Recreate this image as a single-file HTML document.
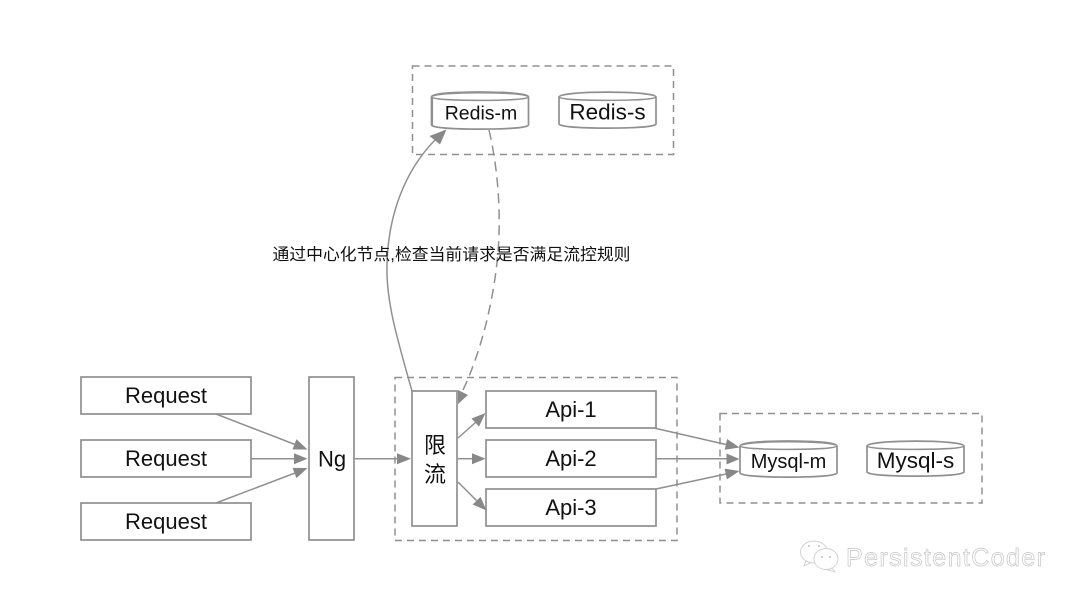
<!DOCTYPE html>
<html lang="zh">
<head>
<meta charset="utf-8">
<title>限流架构图</title>
<style>
html,body{margin:0;padding:0;background:#fff;width:1080px;height:602px;overflow:hidden}
svg{display:block;filter:blur(.35px)}
text{font-family:"Liberation Sans","Noto Sans CJK SC",sans-serif;fill:#111;text-anchor:middle}
.b{fill:#fff;stroke:#909090;stroke-width:1.7}
.d{fill:none;stroke:#909090;stroke-width:1.5;stroke-dasharray:7 5}
.l{fill:none;stroke:#909090;stroke-width:1.5}
.a{fill:#888}
</style>
</head>
<body>
<svg width="1080" height="602" viewBox="0 0 1080 602" xmlns="http://www.w3.org/2000/svg">
<rect width="1080" height="602" fill="#fff"/>

<!-- groups -->
<rect class="d" x="412.500" y="66" width="261" height="88.500"/>
<rect class="d" x="395" y="377.500" width="282" height="163"/>
<rect class="d" x="720" y="413.500" width="262" height="89.500"/>

<!-- boxes -->
<rect class="b" x="81" y="377" width="170" height="37"/>
<rect class="b" x="81" y="440" width="170" height="37"/>
<rect class="b" x="81" y="503" width="170" height="37"/>
<rect class="b" x="309" y="377" width="45" height="163"/>
<rect class="b" x="412" y="391" width="45" height="135"/>
<rect class="b" x="486" y="391" width="170" height="37"/>
<rect class="b" x="486" y="440" width="170" height="37"/>
<rect class="b" x="486" y="489" width="170" height="37"/>

<!-- cylinders -->
<path class="b" d="M431.500 97c0-6.500 97-6.500 97 0v28c0 5.500-97 5.500-97 0z"/>
<path class="l" d="M431.500 97c0 4.500 97 4.500 97 0"/>
<path class="l" d="M432 96.500c0-5.500 96-5.500 96 0M432 97v28" style="stroke-width:2.200"/>
<path class="b" d="M559 97c0-6.500 97-6.500 97 0v27c0 5.500-97 5.500-97 0z"/>
<path class="l" d="M559 97c0 4.500 97 4.500 97 0"/>
<path class="b" d="M740 446c0-6.500 97-6.500 97 0v27c0 5.500-97 5.500-97 0z"/>
<path class="l" d="M740 446c0 4.500 97 4.500 97 0"/>
<path class="l" d="M741 445.500c0-5.500 95-5.500 95 0" style="stroke-width:2.200"/>
<path class="b" d="M867 446c0-6.500 97-6.500 97 0v26c0 5.500-97 5.500-97 0z"/>
<path class="l" d="M867 446c0 4.500 97 4.500 97 0"/>

<!-- connectors -->
<path class="l" d="M216 414L295 444.500"/>
<polygon class="a" points="307.500,449.500 292.500,449.500 296.500,439.300"/>
<path class="l" d="M251 458.700H295"/>
<polygon class="a" points="307.500,458.700 294,453.200 294,464.200"/>
<path class="l" d="M216 503L295 473"/>
<polygon class="a" points="307.500,468 296.500,478.100 292.500,467.900"/>
<path class="l" d="M355 458.700H398"/>
<polygon class="a" points="411,458.700 397,453.200 397,464.200"/>

<path class="l" d="M458 438L475.500 422.500"/>
<polygon class="a" points="485.500,413 479,426.600 471.500,418.500"/>
<path class="l" d="M458 458.700H473"/>
<polygon class="a" points="485.500,458.700 472,453.200 472,464.200"/>
<path class="l" d="M458 482L476.500 500.500"/>
<polygon class="a" points="486.500,510.500 472.700,504.500 480.500,496.700"/>

<path class="l" d="M654 428L726 444.500"/>
<polygon class="a" points="739.500,447.500 724.700,449.800 727.100,439"/>
<path class="l" d="M656 458.700H728"/>
<polygon class="a" points="739.500,459 726.500,453.500 726.500,464.500"/>
<path class="l" d="M656 489L726 474"/>
<polygon class="a" points="739.500,471 726.900,479.400 724.600,468.600"/>

<!-- redis curves -->
<path class="l" d="M412 391C396 335 386 300 387 265C388 215 405 170 436 139"/>
<polygon class="a" points="446.500,129.500 440,144.500 429.500,136"/>
<path class="l" d="M489 130C497 165 500 200 499 235C497 290 482 350 463 390" style="stroke-dasharray:10 6"/>
<polygon class="a" points="458,404 458,390 468,395"/>

<!-- labels -->
<text x="166" y="403" font-size="22">Request</text>
<text x="166" y="466" font-size="22">Request</text>
<text x="166" y="529" font-size="22">Request</text>
<text x="332" y="466.500" font-size="22">Ng</text>
<text x="435" y="453" font-size="22">限</text>
<text x="435" y="482" font-size="22">流</text>
<text x="571" y="417" font-size="22">Api-1</text>
<text x="571" y="466" font-size="22">Api-2</text>
<text x="571" y="515" font-size="22">Api-3</text>
<text x="481" y="119.500" font-size="19.500">Redis-m</text>
<text x="607.500" y="119.500" font-size="22.500">Redis-s</text>
<text x="788.500" y="468" font-size="20">Mysql-m</text>
<text x="915.500" y="468" font-size="22.500">Mysql-s</text>
<text x="451.500" y="260" font-size="16.500" textLength="358" lengthAdjust="spacingAndGlyphs">通过中心化节点,检查当前请求是否满足流控规则</text>

<!-- watermark -->
<g fill="#fff" stroke="#cfcfcf" stroke-width=".9">
<ellipse cx="814" cy="552" rx="13.500" ry="11"/>
<path d="M806 561l-2 5 6-3z"/>
<ellipse cx="826" cy="559" rx="12" ry="10.500"/>
<path d="M832 568l3 4-7-2z"/>
</g>
<g fill="#c4c4c4">
<circle cx="809" cy="546" r="1"/><circle cx="819" cy="546" r="1"/>
<circle cx="822" cy="557" r="1"/><circle cx="830" cy="557" r="1"/>
</g>
<text x="945.500" y="566" font-size="25" textLength="199" style="fill:#fff;stroke:#c6c6c6;stroke-width:.7">PersistentCoder</text>
</svg>
</body>
</html>
